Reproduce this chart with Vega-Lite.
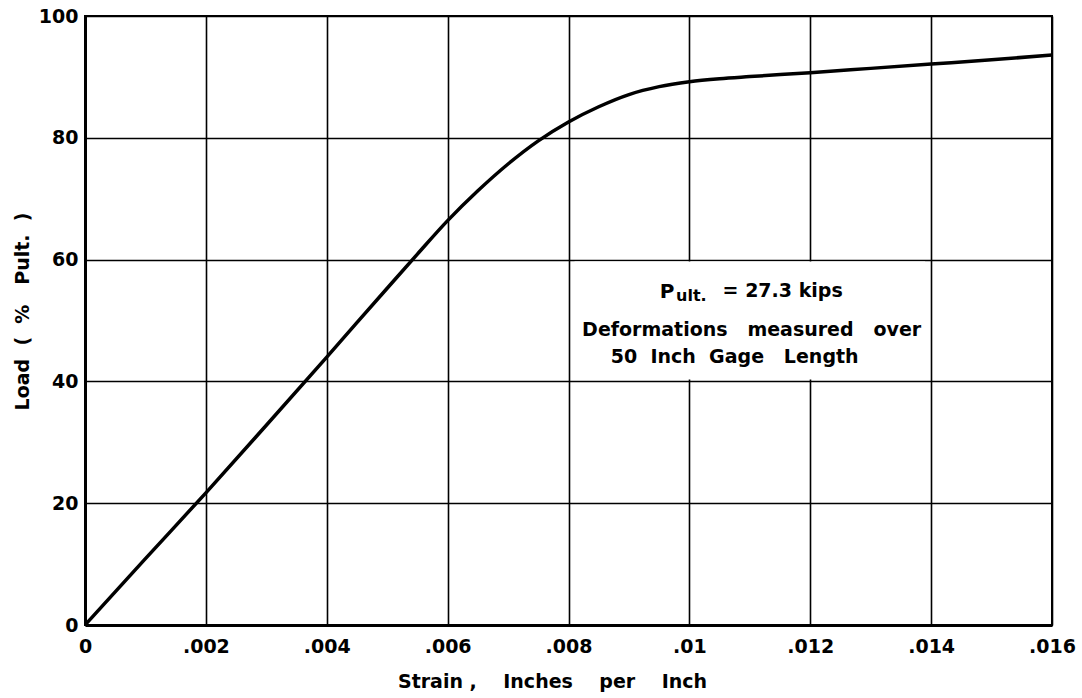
{
  "$schema": "https://vega.github.io/schema/vega-lite/v6.json",
  "width": 967,
  "height": 609,
  "autosize": {"type": "none"},
  "padding": {"left": 85, "top": 16, "right": 30, "bottom": 73},
  "background": "white",
  "config": {
    "view": {"stroke": "black", "strokeWidth": 2},
    "font": "DejaVu Sans"
  },
  "data": {
    "values": [
      {"strain": 0, "load": 0},
      {"strain": 0.001, "load": 10.9},
      {"strain": 0.002, "load": 21.7},
      {"strain": 0.003, "load": 32.8},
      {"strain": 0.004, "load": 44.0},
      {"strain": 0.005, "load": 55.3},
      {"strain": 0.0055, "load": 60.9},
      {"strain": 0.006, "load": 66.4},
      {"strain": 0.0065, "load": 71.3},
      {"strain": 0.007, "load": 75.7},
      {"strain": 0.0075, "load": 79.5},
      {"strain": 0.008, "load": 82.6},
      {"strain": 0.0085, "load": 85.1},
      {"strain": 0.009, "load": 87.1},
      {"strain": 0.0095, "load": 88.4},
      {"strain": 0.01, "load": 89.2},
      {"strain": 0.0105, "load": 89.7},
      {"strain": 0.011, "load": 90.05},
      {"strain": 0.012, "load": 90.7},
      {"strain": 0.013, "load": 91.4},
      {"strain": 0.014, "load": 92.1},
      {"strain": 0.015, "load": 92.8},
      {"strain": 0.016, "load": 93.6}
    ]
  },
  "layer": [
    {
      "mark": {"type": "line", "color": "black", "strokeWidth": 3.5, "interpolate": "monotone", "clip": true},
      "encoding": {
        "x": {
          "field": "strain",
          "type": "quantitative",
          "scale": {"domain": [0, 0.016], "nice": false},
          "axis": {
            "values": [0, 0.002, 0.004, 0.006, 0.008, 0.01, 0.012, 0.014, 0.016],
            "labelExpr": "datum.value == 0 ? '0' : substring(format(datum.value, '.3~f'), 1)",
            "grid": true, "gridColor": "black", "gridWidth": 1.6, "gridOpacity": 1,
            "ticks": false,
            "domainColor": "black", "domainWidth": 3,
            "labelFont": "DejaVu Sans", "labelFontSize": 19, "labelFontWeight": "bold", "labelColor": "black",
            "labelPadding": 12, "labelFlush": false, "labelOverlap": false,
            "title": "Strain\u00a0,\u00a0\u00a0\u00a0\u00a0Inches\u00a0\u00a0\u00a0\u00a0per\u00a0\u00a0\u00a0\u00a0Inch",
            "titleFont": "DejaVu Sans", "titleFontSize": 19, "titleFontWeight": "bold", "titleColor": "black",
            "titleX": 467, "titleY": 62, "titleBaseline": "alphabetic", "titleAlign": "center"
          }
        },
        "y": {
          "field": "load",
          "type": "quantitative",
          "scale": {"domain": [0, 100], "nice": false},
          "axis": {
            "values": [0, 20, 40, 60, 80, 100],
            "grid": true, "gridColor": "black", "gridWidth": 1.6, "gridOpacity": 1,
            "ticks": false,
            "domainColor": "black", "domainWidth": 3,
            "labelFont": "DejaVu Sans", "labelFontSize": 19, "labelFontWeight": "bold", "labelColor": "black",
            "labelPadding": 7,
            "title": "Load\u00a0\u00a0(\u00a0\u00a0%\u00a0\u00a0\u00a0Pult.\u00a0\u00a0)",
            "titleFont": "DejaVu Sans", "titleFontSize": 19, "titleFontWeight": "bold", "titleColor": "black",
            "titleAngle": -90, "titleX": -63, "titleY": 295, "titleAlign": "center", "titleBaseline": "middle"
          }
        }
      }
    },
    {
      "data": {"values": [{}]},
      "mark": {"type": "rect", "fill": "white"},
      "encoding": {
        "x": {"datum": 0.0081, "type": "quantitative"},
        "x2": {"datum": 0.0139},
        "y": {"datum": 40.3, "type": "quantitative"},
        "y2": {"datum": 59.7}
      }
    },
    {
      "data": {"values": [{}]},
      "mark": {"type": "text", "text": "P", "align": "left", "baseline": "alphabetic", "font": "DejaVu Sans", "fontWeight": "bold", "fontSize": 20, "color": "black"},
      "encoding": {"x": {"datum": 0.00951, "type": "quantitative"}, "y": {"datum": 53.7, "type": "quantitative"}}
    },
    {
      "data": {"values": [{}]},
      "mark": {"type": "text", "text": "ult.", "align": "left", "baseline": "alphabetic", "font": "DejaVu Sans", "fontWeight": "bold", "fontSize": 16, "color": "black"},
      "encoding": {"x": {"datum": 0.00978, "type": "quantitative"}, "y": {"datum": 53.2, "type": "quantitative"}}
    },
    {
      "data": {"values": [{}]},
      "mark": {"type": "text", "text": "=\u00a027.3\u00a0kips", "align": "left", "baseline": "alphabetic", "font": "DejaVu Sans", "fontWeight": "bold", "fontSize": 19, "color": "black"},
      "encoding": {"x": {"datum": 0.01055, "type": "quantitative"}, "y": {"datum": 53.9, "type": "quantitative"}}
    },
    {
      "data": {"values": [{}]},
      "mark": {"type": "text", "text": "Deformations\u00a0\u00a0\u00a0measured\u00a0\u00a0\u00a0over", "align": "center", "baseline": "alphabetic", "font": "DejaVu Sans", "fontWeight": "bold", "fontSize": 19, "color": "black"},
      "encoding": {"x": {"datum": 0.01103, "type": "quantitative"}, "y": {"datum": 47.5, "type": "quantitative"}}
    },
    {
      "data": {"values": [{}]},
      "mark": {"type": "text", "text": "50\u00a0\u00a0Inch\u00a0\u00a0Gage\u00a0\u00a0\u00a0Length", "align": "center", "baseline": "alphabetic", "font": "DejaVu Sans", "fontWeight": "bold", "fontSize": 19, "color": "black"},
      "encoding": {"x": {"datum": 0.01075, "type": "quantitative"}, "y": {"datum": 43.0, "type": "quantitative"}}
    }
  ]
}
